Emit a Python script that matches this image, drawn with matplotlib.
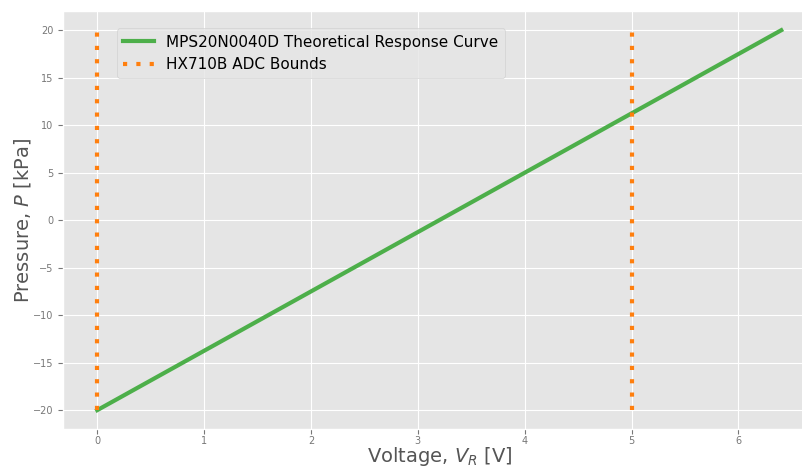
import numpy as np
import matplotlib
matplotlib.use("Agg")
import matplotlib.pyplot as plt

plt.style.use('ggplot')

# Theoretical response curve: endpoints
voltage = [0.0, 6.4]
pressure = [-20.0, 20.0]

# ADC bounds
adc_bounds = [0.0, 5.0]
bound_range = [-20.0, 20.0]

fig = plt.figure(figsize=(8.03, 4.68), dpi=100)
ax = fig.add_axes([0.0785, 0.083, 0.937, 0.893])

ax.plot(voltage, pressure, color='#4daf4a', linewidth=3,
        label='MPS20N0040D Theoretical Response Curve')
for i, b in enumerate(adc_bounds):
    ax.plot([b, b], bound_range, color='#ff7f0e', linestyle=(0, (1, 2.2)),
            linewidth=3, label='HX710B ADC Bounds' if i == 0 else None)

ax.set_xlim(-0.32, 6.72)
ax.set_ylim(-22, 22)
ax.set_xticks(range(0, 7))
ax.set_yticks(range(-20, 21, 5))
ax.tick_params(labelsize=7, colors='#777777')
ax.tick_params(axis='x', pad=1.5)

ax.set_xlabel('Voltage, $V_R$ [V]', fontsize=14, color='#555555', labelpad=-1)
ax.set_ylabel('Pressure, $P$ [kPa]', fontsize=14, color='#555555', labelpad=0)

ax.legend(loc='upper left', bbox_to_anchor=(0.062, 0.977), fontsize=11)

fig.savefig('out.png', dpi=100)
